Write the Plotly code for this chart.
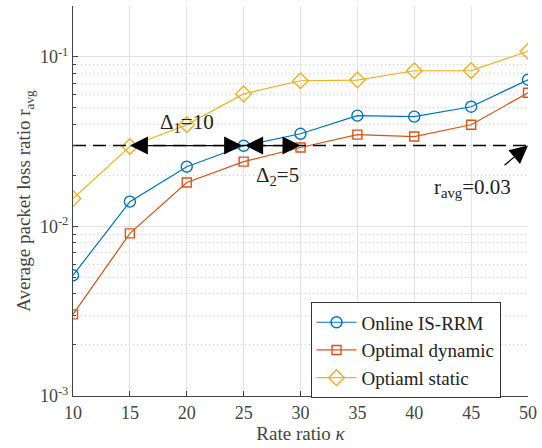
import numpy as np
import plotly.graph_objects as go

kappa = [10, 15, 20, 25, 30, 35, 40, 45, 50]
online = [0.00515, 0.0140, 0.0225, 0.0299, 0.0352, 0.0450, 0.0444, 0.0508, 0.0733]
opt_dynamic = [0.00303, 0.0091, 0.01815, 0.0241, 0.0292, 0.0348, 0.0339, 0.0398, 0.0614]
opt_static = [0.0146, 0.0296, 0.0398, 0.0605, 0.0723, 0.0730, 0.0828, 0.0830, 0.108]
r_avg = 0.03
names = ["Online IS-RRM", "Optimal dynamic", "Optiaml static"]
colors = ["#0072BD", "#D95319", "#EDB120"]
symbols = ["circle-open", "square-open", "diamond-open"]
msizes = [11, 9, 12]
ytick_vals = [1e-3, 1e-2, 1e-1]
ytick_text = ["10<sup>-3</sup>", "10<sup>-2</sup>", "10<sup>-1</sup>"]

FONT = "Liberation Serif"

fig = go.Figure()
for ys, nm, c, s, ms in zip([online, opt_dynamic, opt_static], names, colors, symbols, msizes):
    fig.add_trace(go.Scatter(
        x=kappa, y=ys, name=nm, mode="lines+markers",
        line=dict(color=c, width=1.2),
        marker=dict(symbol=s, size=ms, color=c, line=dict(width=1.4, color=c)),
    ))

# dashed reference line
fig.add_trace(go.Scatter(
    x=[kappa[0], kappa[-1]], y=[r_avg, r_avg], mode="lines",
    line=dict(color="black", width=1.6, dash="13px,7px"), showlegend=False,
    hoverinfo="skip",
))

ly = np.log10(r_avg)
arrow_common = dict(xref="x", yref="y", axref="x", ayref="y", text="", showarrow=True,
                    arrowhead=2, arrowsize=3, arrowwidth=1.2, arrowcolor="black",
                    arrowside="end+start")
annotations = [
    dict(x=15, y=ly, ax=25, ay=ly, **arrow_common),
    dict(x=30, y=ly, ax=25, ay=ly, **arrow_common),
    dict(x=50, y=ly, ax=-25, ay=21, xref="x", yref="y", text="", showarrow=True,
         arrowhead=2, arrowsize=3, arrowwidth=1.2, arrowcolor="black"),
    dict(x=20.0, y=-1.39, xref="x", yref="y", text="Δ<sub>1</sub>=10", showarrow=False,
         font=dict(family=FONT, size=21, color="#222")),
    dict(x=28.0, y=-1.705, xref="x", yref="y", text="Δ<sub>2</sub>=5", showarrow=False,
         font=dict(family=FONT, size=21, color="#222")),
    dict(x=45.1, y=-1.775, xref="x", yref="y", text="r<sub>avg</sub>=0.03", showarrow=False,
         font=dict(family=FONT, size=21, color="#222")),
]

minor_vals = [m * 10.0 ** e for e in (-3, -2, -1) for m in range(2, 10)]

fig.update_layout(
    width=542, height=448,
    margin=dict(l=73, r=5, t=6, b=52),
    paper_bgcolor="white", plot_bgcolor="white",
    font=dict(family=FONT, size=18, color="#444"),
    annotations=annotations,
    legend=dict(x=0.522, y=0.24, xanchor="left", yanchor="top",
                bgcolor="white", bordercolor="#333", borderwidth=1,
                font=dict(family=FONT, size=19, color="#222"),
                tracegroupgap=0, itemwidth=40),
    showlegend=True,
)
fig.update_xaxes(
    range=[10, 50], tickvals=kappa, ticks="inside", ticklen=5, tickcolor="#444",
    showline=True, linecolor="#444", linewidth=1, mirror=False,
    showgrid=True, gridcolor="#e3e3e3", gridwidth=1, zeroline=False,
    ticklabeloverflow="allow",
    title=dict(text="Rate ratio <i>κ</i>", font=dict(family=FONT, size=19, color="#444"), standoff=4),
    tickfont=dict(family=FONT, size=18, color="#444"),
)
fig.update_yaxes(
    type="log", range=[-3, -0.7], tickvals=ytick_vals, ticktext=ytick_text,
    ticks="inside", ticklen=5, tickcolor="#444",
    showline=True, linecolor="#444", linewidth=1, mirror=False,
    showgrid=True, gridcolor="#e3e3e3", gridwidth=1, zeroline=False,
    minor=dict(tickvals=minor_vals, ticks="inside", ticklen=3, tickcolor="#444",
               showgrid=True, gridcolor="#cfcfcf", griddash="1px,3px", gridwidth=1),
    title=dict(text="Average packet loss ratio r<sub>avg</sub>", font=dict(family=FONT, size=19, color="#444"), standoff=4),
    tickfont=dict(family=FONT, size=18, color="#444"),
)

fig.write_html("out.html")
